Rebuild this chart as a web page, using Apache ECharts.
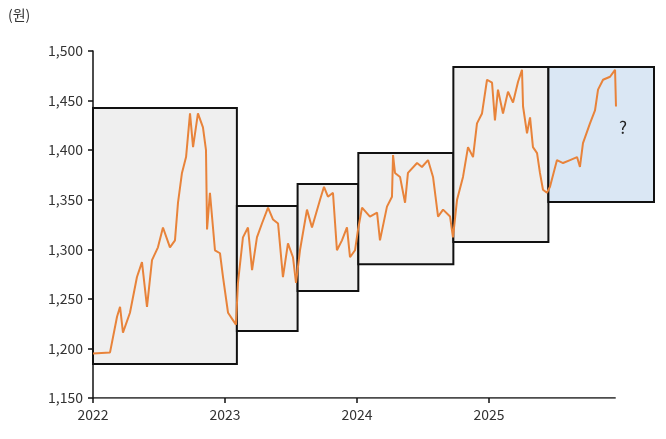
<!DOCTYPE html>
<html>
<head>
<meta charset="utf-8">
<script src="https://cdn.jsdelivr.net/npm/echarts@6/dist/echarts.min.js"></script>
<style>html,body{margin:0;padding:0;background:#fff}#main{width:666px;height:439px}</style>
</head>
<body>
<div id="main"></div>
<script>
// 원/달러 환율 (연도 소수 표기, 그림에서 읽은 근사값)
var dates = [2022.000,2022.129,2022.182,2022.205,2022.227,2022.280,2022.333,2022.371,2022.409,2022.447,
  2022.492,2022.530,2022.583,2022.621,2022.644,2022.674,2022.705,2022.735,2022.758,2022.795,
  2022.833,2022.856,2022.864,2022.886,2022.924,2022.962,2022.985,2023.023,2023.083,2023.098,
  2023.136,2023.174,2023.205,2023.242,2023.280,2023.326,2023.364,2023.402,2023.439,2023.477,
  2023.515,2023.538,2023.568,2023.621,2023.659,2023.720,2023.750,2023.780,2023.818,2023.848,
  2023.886,2023.924,2023.947,2023.985,2024.008,2024.038,2024.098,2024.152,2024.174,2024.227,
  2024.265,2024.273,2024.288,2024.326,2024.364,2024.386,2024.455,2024.492,2024.538,2024.576,
  2024.614,2024.652,2024.705,2024.727,2024.758,2024.803,2024.841,2024.879,2024.909,2024.947,
  2024.985,2025.023,2025.045,2025.068,2025.106,2025.144,2025.182,2025.220,2025.250,2025.258,
  2025.288,2025.311,2025.333,2025.364,2025.386,2025.409,2025.439,2025.462,2025.515,2025.561,
  2025.614,2025.667,2025.689,2025.712,2025.765,2025.803,2025.826,2025.864,2025.917,2025.955,2025.962];
var rates = [1195,1196,1232,1242,1216,1236,1272,1287,1242,1289,
  1302,1322,1302,1309,1347,1377,1393,1437,1403,1437,
  1423,1400,1320,1357,1299,1296,1272,1236,1224,1266,
  1312,1322,1279,1312,1326,1342,1330,1326,1272,1306,
  1292,1266,1299,1340,1322,1350,1363,1353,1357,1299,
  1309,1322,1292,1299,1320,1342,1333,1337,1309,1343,
  1353,1395,1377,1373,1347,1377,1387,1383,1390,1373,
  1333,1340,1333,1312,1350,1373,1403,1393,1427,1437,
  1471,1468,1430,1461,1437,1459,1448,1469,1481,1444,
  1417,1433,1403,1397,1377,1360,1357,1363,1390,1387,
  1390,1393,1383,1407,1427,1440,1461,1471,1474,1481,1444];
var years = [2022, 2023, 2024, 2025];
// 구간 박스: [시작, 끝, 상단, 하단]
var boxes = [
  [2022.000, 2023.090, 1442.5, 1184.3],
  [2023.090, 2023.550, 1343.7, 1217.6],
  [2023.550, 2024.010, 1365.8, 1257.9],
  [2024.010, 2024.730, 1397.0, 1285.0],
  [2024.730, 2025.450, 1483.9, 1307.3]
];
var forecastBox = [2025.450, 2026.250, 1483.9, 1347.7];

var font = 'Noto Sans CJK KR';
var myChart = echarts.init(document.getElementById('main'));
var boxStyle = { color: '#efefef', borderColor: '#111', borderWidth: 2 };
var areaData = boxes.map(function (b) {
  return [{ coord: [b[0], b[2]], itemStyle: boxStyle }, { coord: [b[1], b[3]] }];
});
areaData.push([{ coord: [forecastBox[0], forecastBox[2]],
  itemStyle: { color: '#dae7f4', borderColor: '#111', borderWidth: 2 } },
  { coord: [forecastBox[1], forecastBox[3]] }]);

var option = {
  animation: false,
  grid: { left: 93, right: 12, top: 51, bottom: 41 },
  graphic: [
    { type: 'text', left: 8, top: 8, style: { text: '(원)', fontSize: 14, fill: '#333', fontFamily: font } },
    { type: 'text', left: 619, top: 119, z: 10, style: { text: '?', fontSize: 17, fill: '#222', fontFamily: font } }
  ],
  xAxis: {
    type: 'value', min: 2022, max: 2026.25, interval: 1,
    axisLine: { show: false },
    axisTick: { show: true, length: 5, customValues: years, lineStyle: { color: '#111', width: 1.5 } },
    splitLine: { show: false },
    axisLabel: { fontSize: 14, color: '#333', fontFamily: font, margin: 10, customValues: years,
      formatter: function (v) { return String(v); } }
  },
  yAxis: {
    type: 'value', min: 1150, max: 1500, interval: 50,
    axisLine: { show: true, lineStyle: { color: '#111', width: 1.5 } },
    axisTick: { show: true, length: 5, lineStyle: { color: '#111', width: 1.5 } },
    splitLine: { show: false },
    axisLabel: { fontSize: 14, color: '#333', fontFamily: font, margin: 10,
      formatter: function (v) { return v.toLocaleString('en-US'); } }
  },
  series: [
    {
      type: 'line', data: [[2022, 1150], [2025.96, 1150]], symbol: 'none', silent: true,
      lineStyle: { color: '#111', width: 1.5 }, z: 1
    },
    {
      type: 'line', symbol: 'none', z: 3,
      data: dates.map(function (d, i) { return [d, rates[i]]; }),
      lineStyle: { color: '#e8833a', width: 2 },
      markArea: { silent: true, data: areaData }
    }
  ]
};
myChart.setOption(option);
</script>
</body>
</html>
